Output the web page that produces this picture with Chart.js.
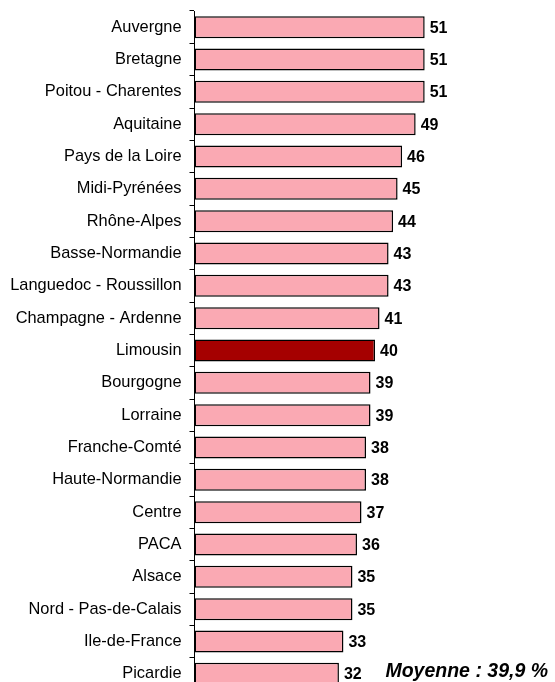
<!DOCTYPE html>
<html>
<head>
<meta charset="utf-8">
<script src="https://cdn.jsdelivr.net/npm/chart.js@4/dist/chart.umd.min.js"></script>
<style>
  body { margin: 0; background: #fff; overflow: hidden; }
  #wrap { width: 555px; height: 700px; position: relative; }
</style>
</head>
<body>
<div id="wrap"><canvas id="chart"></canvas></div>
<script>
// regions and their values (%)
const regions = [
  "Auvergne", "Bretagne", "Poitou - Charentes", "Aquitaine", "Pays de la Loire",
  "Midi-Pyrénées", "Rhône-Alpes", "Basse-Normandie", "Languedoc - Roussillon",
  "Champagne - Ardenne", "Limousin", "Bourgogne", "Lorraine", "Franche-Comté",
  "Haute-Normandie", "Centre", "PACA", "Alsace", "Nord - Pas-de-Calais",
  "Ile-de-France", "Picardie"
];
const values = [51, 51, 51, 49, 46, 45, 44, 43, 43, 41, 40, 39, 39, 38, 38, 37, 36, 35, 35, 33, 32];
const highlight = "Limousin";
const averageLabel = "Moyenne : 39,9 %";

const barColors = regions.map(r => r === highlight ? "#A50000" : "#FAA9B3");
const fontFamily = "'Liberation Sans', Arial, sans-serif";

// value labels at the end of each bar + the average note
const valueLabels = {
  id: "valueLabels",
  afterDatasetsDraw(chart) {
    const ctx = chart.ctx;
    const meta = chart.getDatasetMeta(0);
    ctx.save();
    ctx.font = "bold 16px " + fontFamily;
    ctx.fillStyle = "#000";
    ctx.textAlign = "left";
    ctx.textBaseline = "middle";
    meta.data.forEach((bar, i) => {
      ctx.fillText(values[i], bar.x + 5, bar.y + 1);
    });
    const last = meta.data[meta.data.length - 1];
    ctx.font = "italic bold 19.5px " + fontFamily;
    ctx.textAlign = "right";
    ctx.textBaseline = "alphabetic";
    ctx.fillText(averageLabel, 548, last.y + 3);
    ctx.restore();
  }
};

const ctx = document.getElementById("chart").getContext("2d");
const chart = new Chart(ctx, {
  type: "bar",
  data: {
    labels: regions,
    datasets: [{
      data: values,
      backgroundColor: barColors,
      borderColor: "#000",
      borderWidth: 1.5,
      borderSkipped: false,
      barPercentage: 0.68,
      categoryPercentage: 1
    }]
  },
  options: {
    indexAxis: "y",
    responsive: true,
    maintainAspectRatio: false,
    animation: false,
    layout: { padding: { top: 11, right: 22, left: 0, bottom: 10 } },
    plugins: {
      legend: { display: false },
      tooltip: { enabled: false }
    },
    scales: {
      x: {
        display: false,
        min: 0,
        max: 75
      },
      y: {
        afterFit(scale) {
          scale.width = 194.5;
          scale.paddingTop = 0;
          scale.paddingBottom = 0;
        },
        border: { display: true, color: "#000", width: 1 },
        grid: {
          offset: true,
          drawOnChartArea: false,
          drawTicks: true,
          tickLength: 5,
          color: "#000"
        },
        ticks: {
          color: "#000",
          padding: 8,
          font: { family: fontFamily, size: 16.4 }
        }
      }
    }
  },
  plugins: [valueLabels]
});
</script>
</body>
</html>
